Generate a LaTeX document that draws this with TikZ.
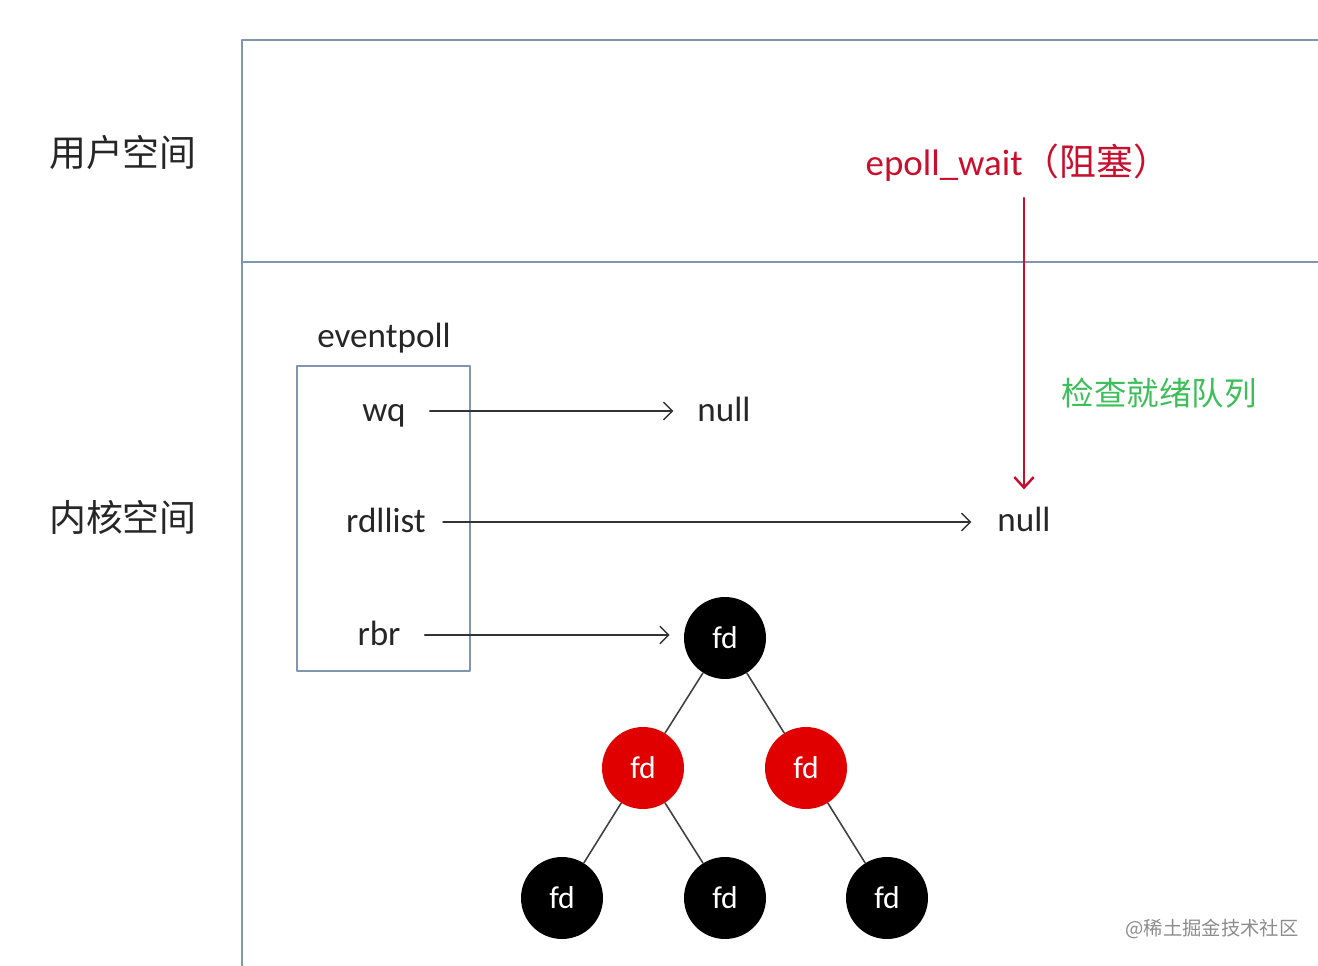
\documentclass[tikz,border=0pt]{standalone}
\usepackage{fontspec}
\setmainfont{Carlito}
\newfontfamily\cjk{Noto Sans CJK SC}
\usetikzlibrary{arrows.meta}
\definecolor{framec}{HTML}{7F95B0}
\definecolor{waitred}{HTML}{C8102E}
\definecolor{checkgreen}{HTML}{3DBE5A}
\definecolor{rbred}{HTML}{E00000}
\tikzset{
  lbl/.style={font=\fontsize{20}{24}\selectfont,text=black!85,
    text height=15pt,text depth=2.5pt},
  zone/.style={font=\cjk\fontsize{21}{25}\selectfont,text=black!85},
  ptr/.style={-{Straight Barb[length=5pt,width=10pt]},line width=0.8pt,draw=black!80,
    shorten <=0.36cm,shorten >=0.36cm},
  fdnode/.style={circle,fill=black,minimum size=1.64cm,inner sep=0pt,text=white,
    font=\fontsize{18}{20}\selectfont},
  rednode/.style={fdnode,fill=rbred},
  treeline/.style={line width=0.9pt,draw=black!75}
}
\begin{document}
\begin{tikzpicture}[x=0.02cm,y=-0.02cm,line cap=round,line join=round]
\useasboundingbox (0,0) rectangle (1318,966);

% 用户空间 / 内核空间
\draw[framec,line width=1.3pt] (1318,40)--(242,40)--(242,966);
\draw[framec,line width=1.3pt] (242,262)--(1318,262);
\node[zone] (user) at (123,152) {用户空间};
\node[zone] (kernel) at (123,517) {内核空间};

% eventpoll
\draw[framec,line width=1pt] (297,366) rectangle (470,671);
\node[lbl] (ep) at (384,337) {eventpoll};
\node[lbl] (wq) at (384,411) {wq};
\node[lbl] (rdl) at (386,522) {rdllist};
\node[lbl] (rbr) at (379,635) {rbr};
\node[lbl] (nullwq) at (724,411) {null};
\node[lbl] (nullrd) at (1024,521) {null};

% 红黑树
\node[fdnode] (root) at (725,638) {fd};
\node[rednode] (rl) at (643,768) {fd};
\node[rednode] (rr) at (806,768) {fd};
\node[fdnode] (l1) at (562,898) {fd};
\node[fdnode] (l2) at (725,898) {fd};
\node[fdnode] (l3) at (887,898) {fd};
\draw[treeline] (root)--(rl);
\draw[treeline] (root)--(rr);
\draw[treeline] (rl)--(l1);
\draw[treeline] (rl)--(l2);
\draw[treeline] (rr)--(l3);

\draw[ptr] (wq)--(wq -| nullwq.west);
\draw[ptr,shorten <=0.22cm,shorten >=0.4cm] (rdl)--(rdl -| nullrd.west);
\draw[ptr,shorten >=0.28cm] (rbr)--(rbr -| root.west);

% epoll_wait
\node[font=\fontsize{21}{25}\selectfont,text=waitred] (wait) at (1018,163)
  {epoll\_wait{\cjk （阻塞）}};
\draw[-{Straight Barb[length=6pt,width=11pt]},line width=1.4pt,waitred,
  shorten <=0.2cm,shorten >=0.2cm] (nullrd.north |- wait.south)--(nullrd.north);
\node[font=\cjk\fontsize{18.5}{22}\selectfont,text=checkgreen] (check) at (1159,393) {检查就绪队列};

\node[font=\cjk\fontsize{11}{13}\selectfont,text=black!45] (mark) at (1212,929) {@稀土掘金技术社区};
\end{tikzpicture}
\end{document}
